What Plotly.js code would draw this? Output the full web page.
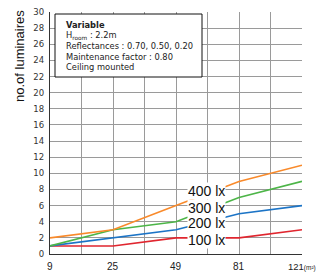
<!DOCTYPE html>
<html><head><meta charset="utf-8">
<script src="https://cdn.plot.ly/plotly-3.0.1.min.js"></script>
<style>html,body{margin:0;padding:0;background:#fff}#c{width:317px;height:273px}</style>
</head><body><div id="c"></div>
<script>
// Room area (m²); x axis is a square-root scale (side length)
const areas = [9, 25, 49, 81, 121];
const xTickLabels = ['9', '25', '49', '81', '121'];
const lux100 = [1, 1, 2, 2, 3];
const lux200 = [1, 2, 3, 5, 6];
const lux300 = [1, 3, 4, 7, 9];
const lux400 = [2, 3, 6, 9, 11];
const seriesNames = ['100 lx', '200 lx', '300 lx', '400 lx'];
const yTickVals = [0,2,4,6,8,10,12,14,16,18,20,22,24,26,28,30];

const xs = areas.map(Math.sqrt);
const colors = ['#e0262f', '#1c74c6', '#4db548', '#f98a2b'];
const series = [lux100, lux200, lux300, lux400];

const traces = series.map((s, i) => ({
  x: xs, y: s, type: 'scatter', mode: 'lines', name: seriesNames[i],
  line: {color: colors[i], width: 1.6}, hoverinfo: 'skip'
}));

const labelY = [1.77, 3.85, 5.7, 7.76];
const annotations = [];
const ph = 242, pw = 252;

// x tick labels placed on the x axis scale
xs.forEach((x, i) => {
  const last = i === xs.length - 1;
  annotations.push({
    x: x, xref: 'x', yref: 'paper', y: -0.022, yanchor: 'top', xanchor: 'center',
    text: last ? xTickLabels[i] + '<span style="font-size:6.5px">(m²)</span>' : xTickLabels[i],
    showarrow: false, visible: true,
    font: {family: 'Liberation Sans, Arial, sans-serif', size: last ? 9.5 : 10, color: '#222'}
  });
});

seriesNames.forEach((n, i) => annotations.push({
  x: 7.97, y: labelY[i], xref: 'x', yref: 'y', text: n, showarrow: false,
  font: {family: 'Liberation Sans, Arial, sans-serif', size: 14, color: '#111'},
  bgcolor: '#fff', borderpad: 0, xanchor: 'center', yanchor: 'middle'
}));

const boxLines = ['<b>Variable</b>', 'H<sub>room</sub> : 2.2m', 'Reflectances : 0.70, 0.50, 0.20',
  'Maintenance factor : 0.80', 'Ceiling mounted'];
boxLines.forEach((t, i) => {
  const py = 25 + i * 10.5;
  annotations.push({
    xref: 'paper', yref: 'paper', x: (64 - 50) / pw, y: (254 - py) / ph,
    xanchor: 'left', yanchor: 'middle', text: t, showarrow: false,
    font: {family: 'DejaVu Sans, Verdana, sans-serif', size: 8.3, color: '#222'}
  });
});
annotations.push({
  xref: 'paper', yref: 'paper', x: (20 - 50) / pw, y: (254 - 56) / ph,
  xanchor: 'center', yanchor: 'middle', textangle: -90, text: 'no.of luminaires', showarrow: false,
  font: {family: 'Liberation Sans, Arial, sans-serif', size: 13, color: '#111'}
});

const layout = {
  width: 317, height: 273,
  margin: {l: 50, r: 15, t: 12, b: 19, pad: 0},
  paper_bgcolor: '#fff', plot_bgcolor: '#fff',
  showlegend: false,
  xaxis: {
    range: [3, 11], tick0: 3, dtick: 1, showticklabels: false,
    showgrid: true, gridcolor: '#9a9a9a', gridwidth: 1,
    showline: true, linecolor: '#333', linewidth: 1.2, zeroline: false, ticks: ''
  },
  yaxis: {
    range: [0, 30], tickmode: 'array', tickvals: yTickVals,
    showgrid: true, gridcolor: '#9a9a9a', gridwidth: 1,
    showline: true, linecolor: '#333', linewidth: 1.2, zeroline: false,
    ticks: 'outside', ticklen: 3, tickcolor: 'rgba(0,0,0,0)',
    tickfont: {family: 'DejaVu Sans, Verdana, sans-serif', size: 8.5, color: '#333'}
  },
  shapes: [{
    type: 'rect', xref: 'paper', yref: 'paper',
    x0: (55 - 50) / pw, x1: (202 - 50) / pw, y0: (254 - 77) / ph, y1: (254 - 14) / ph,
    line: {color: '#111', width: 1}, fillcolor: '#fff', layer: 'above'
  }],
  annotations: annotations
};
Plotly.newPlot('c', traces, layout, {staticPlot: true});
</script></body></html>
